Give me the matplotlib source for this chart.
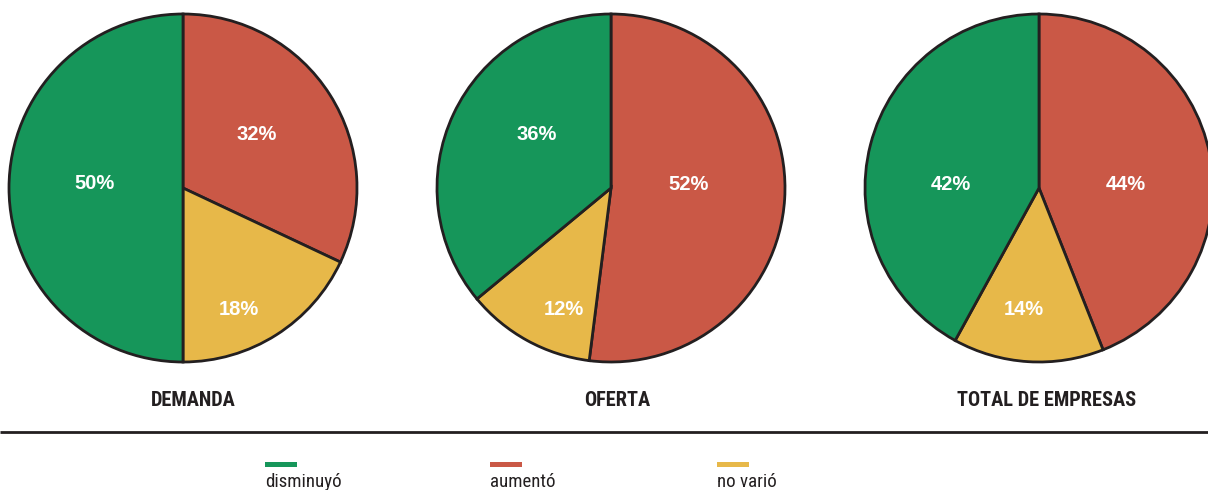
import matplotlib
matplotlib.use('Agg')
import matplotlib.pyplot as plt
from matplotlib.patches import Rectangle

# datos
titulos = ['DEMANDA', 'OFERTA', 'TOTAL DE EMPRESAS']
categorias = ['aumentó', 'no varió', 'disminuyó']
demanda = [32, 18, 50]
oferta = [52, 12, 36]
total = [44, 14, 42]
leyenda = ['disminuyó', 'aumentó', 'no varió']

colores = {'aumentó': '#ca5846', 'no varió': '#e7b849', 'disminuyó': '#16965a'}
borde = '#231f20'
fuente_cond = ['Roboto Condensed', 'Archivo Narrow', 'PT Sans Narrow',
               'IBM Plex Sans Condensed', 'Fira Sans Condensed',
               'Sofia Sans Condensed', 'Liberation Sans']

# donde va cada etiqueta de porcentaje, relativo al centro y en radios
pos_etiquetas = [
    [(0.425, 0.316), (0.322, -0.695), (-0.511, 0.029)],
    [(0.448, 0.023), (-0.270, -0.695), (-0.425, 0.316)],
    [(0.500, 0.023), (-0.086, -0.695), (-0.506, 0.023)],
]

fig = plt.figure(figsize=(12.08, 4.90), dpi=100)
ax = fig.add_axes([0, 0, 1, 1])
ax.set_xlim(0, 1208)
ax.set_ylim(0, 490)
ax.set_aspect('equal')
ax.axis('off')

centros = [183, 611, 1039]
radio = 174
cy = 302
titulo_x = [193, 617, 1047]

for serie, cx, tit, tx, pos in zip([demanda, oferta, total], centros, titulos,
                                   titulo_x, pos_etiquetas):
    wedges, texts, autotexts = ax.pie(
        serie, colors=[colores[c] for c in categorias], startangle=90,
        counterclock=False, center=(cx, cy), radius=radio,
        autopct='%d%%', pctdistance=0.52,
        wedgeprops=dict(edgecolor=borde, linewidth=2.0),
        textprops=dict(color='white', fontsize=14.5, fontweight='bold',
                       family='Liberation Sans'))
    for t, (px, py) in zip(autotexts, pos):
        t.set_position((cx + px * radio, cy + py * radio - 1))
        t.set_ha('center')
        t.set_va('center')
    ax.text(tx, 90, tit, ha='center', va='center', fontsize=14.7,
            fontweight='bold', family=fuente_cond, color=borde)

ax.set_xlim(0, 1208)
ax.set_ylim(0, 490)

ax.plot([0, 1208], [58, 58], color=borde, linewidth=2.0, solid_capstyle='butt')

leg_x = [265, 490, 717]
for lx, lab in zip(leg_x, leyenda):
    ax.add_patch(Rectangle((lx, 23), 32, 5, facecolor=colores[lab], edgecolor='none'))
    ax.text(lx, 3, lab, ha='left', va='baseline', fontsize=13.6,
            family=fuente_cond, color=borde)

fig.savefig('out.png', dpi=100)
